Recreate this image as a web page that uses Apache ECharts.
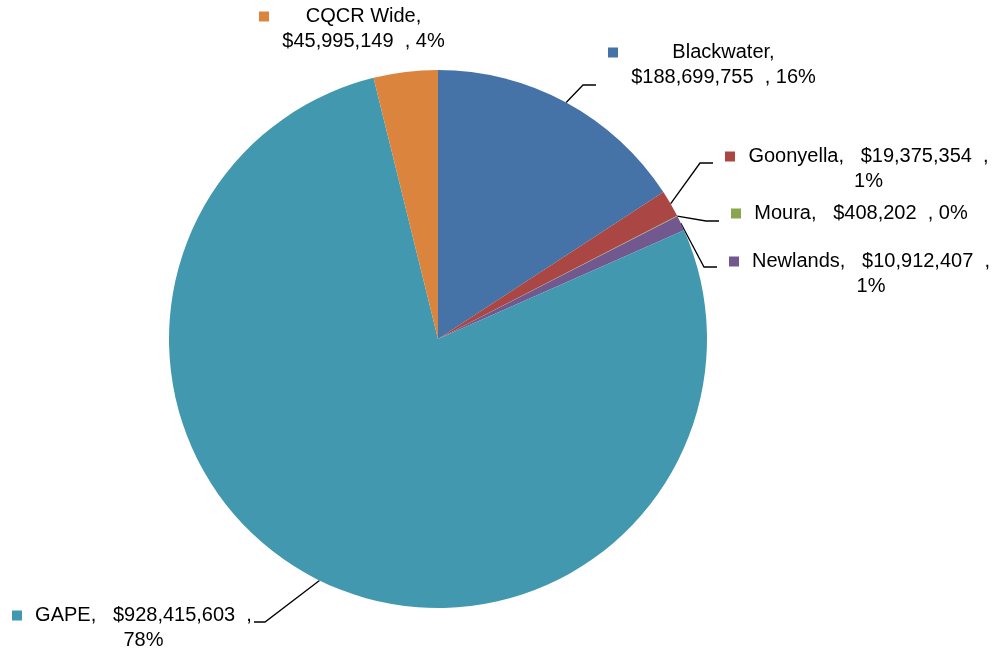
<!DOCTYPE html>
<html>
<head>
<meta charset="utf-8">
<script src="https://cdn.jsdelivr.net/npm/echarts@6/dist/echarts.min.js"></script>
<style>
html,body{margin:0;padding:0;background:#fff;}
#chart{width:998px;height:652px;}
</style>
</head>
<body>
<div id="chart"></div>
<script>
// ---- data ----
var categories = ['Blackwater', 'Goonyella', 'Moura', 'Newlands', 'GAPE', 'CQCR Wide'];
var values = [188699755, 19375354, 408202, 10912407, 928415603, 45995149];
var percentLabels = ['16%', '1%', '0%', '1%', '78%', '4%'];
var colors = ['#4572A7', '#AA4643', '#89A54E', '#71588F', '#4198AF', '#DB843D'];

// label text lines (as in the reference, wrapped)
var labelLines = [
  ['Blackwater,', '$188,699,755  , 16%'],
  ['Goonyella,   $19,375,354  ,', '1%'],
  ['Moura,   $408,202  , 0%'],
  ['Newlands,   $10,912,407  ,', '1%'],
  ['GAPE,   $928,415,603  ,', '78%'],
  ['CQCR Wide,', '$45,995,149  , 4%']
];

// ---- layout (label positions: left/top of the key square, leader attach offset) ----
var labelPos = [
  {x: 608, y: 40, lineDy: 45, side: 'right', showLine: true},
  {x: 725, y: 144, lineDy: 19, side: 'right', showLine: true},
  {x: 731, y: 201, lineDy: 20, side: 'right', showLine: true},
  {x: 729, y: 249, lineDy: 18, side: 'right', showLine: true},
  {x: 12,  y: 603, lineDy: 19, side: 'left',  showLine: true},
  {x: 259, y: 4,   lineDy: 12, side: 'right', showLine: false}
];

var FONT_SIZE = 20;
var FONT_FAMILY = '"Liberation Sans", Arial, sans-serif';
var LINE_H = 25;
var SQ = 10, GAP = 13;

var mctx = document.createElement('canvas').getContext('2d');
mctx.font = FONT_SIZE + 'px ' + FONT_FAMILY;
function tw(s) { return mctx.measureText(s).width; }

var blockWidths = labelLines.map(function (lines) {
  return Math.ceil(Math.max.apply(null, lines.map(tw)));
});

var data = categories.map(function (c, i) {
  return {
    name: c,
    value: values[i],
    itemStyle: {color: colors[i]},
    labelLine: {show: labelPos[i].showLine}
  };
});

var chart = echarts.init(document.getElementById('chart'), null, {renderer: 'canvas'});
chart.setOption({
  backgroundColor: '#fff',
  animation: false,
  series: [{
    type: 'pie',
    center: [438, 339],
    radius: 269,
    startAngle: 90,
    clockwise: true,
    data: data,
    itemStyle: {borderWidth: 0},
    label: {
      show: true,
      position: 'outside',
      lineHeight: LINE_H,
      fontSize: FONT_SIZE,
      fontFamily: FONT_FAMILY,
      color: '#000',
      formatter: function (p) {
        var i = p.dataIndex;
        var lines = labelLines[i];
        return lines.map(function (l, k) {
          return (k === 0 ? '{s' + i + '|}' : '{gp|}') + '{c' + i + '|' + l + '}';
        }).join('\n');
      },
      rich: (function () {
        var r = {
          gp: {width: SQ, height: SQ}
        };
        for (var i = 0; i < categories.length; i++) {
          r['s' + i] = {width: SQ, height: SQ, backgroundColor: colors[i]};
          r['c' + i] = {
            width: blockWidths[i],
            padding: [0, 0, 0, GAP],
            align: 'center',
            fontSize: FONT_SIZE,
            fontFamily: FONT_FAMILY,
            color: '#000',
            lineHeight: LINE_H
          };
        }
        return r;
      })()
    },
    labelLine: {
      show: true,
      length: 15,
      length2: 12,
      lineStyle: {color: '#000', width: 1.3}
    },
    labelLayout: function (params) {
      var i = params.dataIndex;
      var lp = labelPos[i];
      var w = SQ + GAP + blockWidths[i];
      var res = {x: lp.x, y: lp.y, align: 'left', verticalAlign: 'top', hideOverlap: false, moveOverlap: false};
      if (lp.showLine && params.labelLinePoints) {
        var start = params.labelLinePoints[0];
        var ey = lp.y + lp.lineDy;
        var endX, midX;
        if (lp.side === 'right') {
          endX = lp.x - 12;
          midX = endX - 13;
        } else {
          endX = lp.x + w + 2;
          midX = endX + 11;
        }
        res.labelLinePoints = [[start[0], start[1]], [midX, ey], [endX, ey]];
      }
      return res;
    }
  }]
});
</script>
</body>
</html>
